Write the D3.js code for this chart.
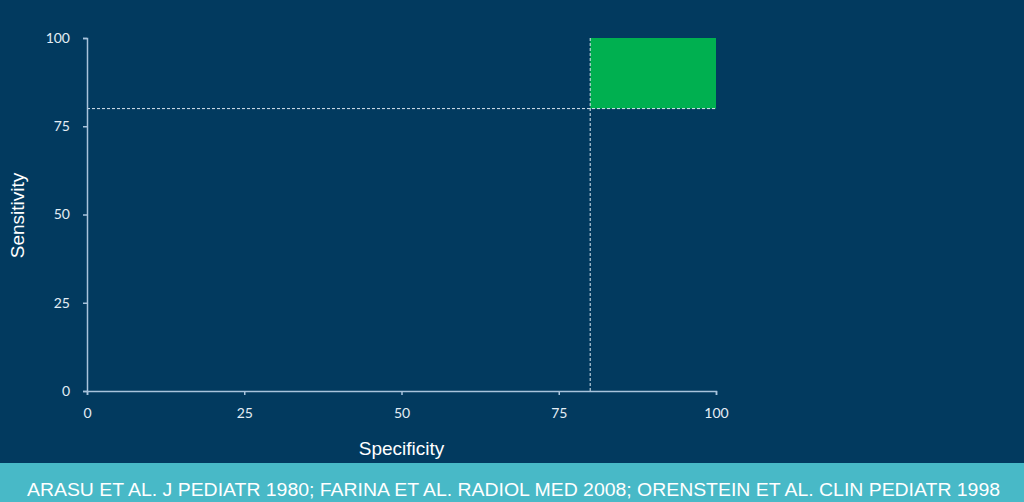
<!DOCTYPE html>
<html>
<head>
<meta charset="utf-8">
<script src="https://cdn.jsdelivr.net/npm/d3@7"></script>
<style>
  body { margin: 0; background: #023a5f; }
  svg { display: block; }
</style>
</head>
<body>
<div id="chart"></div>
<script>
// axis ticks
const xTicks = [0, 25, 50, 75, 100];
const yTicks = [0, 25, 50, 75, 100];
// cut-off thresholds (specificity, sensitivity)
const cutSpec = [80];
const cutSens = [80];
// target region: specificity 80-100, sensitivity 80-100
const targetBox = [{x0: 80, x1: 100, y0: 80, y1: 100}];
const footerText = ['ARASU ET AL. J PEDIATR 1980;  FARINA ET AL. RADIOL MED 2008; ORENSTEIN ET AL. CLIN PEDIATR 1998'];

const W = 1024, H = 502;
const margin = {top: 38, left: 87};
const width = 716 - margin.left, height = 391 - margin.top;

const svg = d3.select('#chart').append('svg')
  .attr('width', W).attr('height', H);

svg.append('rect').attr('width', W).attr('height', H).attr('fill', '#023a5f');

const g = svg.append('g')
  .attr('transform', 'translate(' + margin.left + ',' + margin.top + ')');

const x = d3.scaleLinear().domain([0, 100]).range([0, width]);
const y = d3.scaleLinear().domain([0, 100]).range([height, 0]);

// green box
g.selectAll('.box').data(targetBox).enter().append('rect')
  .attr('x', d => x(d.x0))
  .attr('y', d => y(d.y1))
  .attr('width', d => x(d.x1) - x(d.x0))
  .attr('height', d => y(d.y0) - y(d.y1))
  .attr('fill', '#00b050');

// dashed cut-off lines
g.selectAll('.hcut').data(cutSens).enter().append('line')
  .attr('x1', x(0)).attr('x2', x(100))
  .attr('y1', d => y(d)).attr('y2', d => y(d))
  .attr('stroke', '#dde8f2').attr('stroke-width', 1)
  .attr('stroke-dasharray', '3,2');
g.selectAll('.vcut').data(cutSpec).enter().append('line')
  .attr('x1', d => x(d)).attr('x2', d => x(d))
  .attr('y1', y(100)).attr('y2', y(0))
  .attr('stroke', '#dde8f2').attr('stroke-width', 1)
  .attr('stroke-dasharray', '3,2');

// axes
const axisColor = '#a9c3dc';
const xAxis = g.append('g')
  .attr('transform', 'translate(0,' + height + ')')
  .call(d3.axisBottom(x).tickValues(xTicks).tickSize(4).tickPadding(13).tickSizeOuter(4));
const yAxis = g.append('g')
  .call(d3.axisLeft(y).tickValues(yTicks).tickSize(4).tickPadding(13).tickSizeOuter(4));

[xAxis, yAxis].forEach(a => {
  a.selectAll('path, line').attr('stroke', axisColor).attr('stroke-width', 1.5);
  a.selectAll('text')
    .attr('fill', '#e4edf5')
    .attr('font-family', 'Lato, "Open Sans", sans-serif')
    .attr('font-size', '14px');
});

// axis titles
svg.append('text')
  .attr('transform', 'translate(24,' + (margin.top + height / 2 + 1) + ') rotate(-90)')
  .attr('text-anchor', 'middle')
  .attr('fill', '#ffffff')
  .attr('font-family', '"Liberation Sans", Arial, sans-serif')
  .attr('font-size', '19px')
  .text('Sensitivity');

svg.append('text')
  .attr('x', margin.left + width / 2)
  .attr('y', 455)
  .attr('text-anchor', 'middle')
  .attr('fill', '#ffffff')
  .attr('font-family', '"Liberation Sans", Arial, sans-serif')
  .attr('font-size', '19px')
  .text('Specificity');

// footer band
svg.append('rect')
  .attr('x', 0).attr('y', 463).attr('width', W).attr('height', H - 463)
  .attr('fill', '#48b9c7');

svg.selectAll('.footer').data(footerText).enter().append('text')
  .attr('x', 27).attr('y', 496)
  .attr('fill', '#ffffff')
  .attr('font-family', '"Liberation Sans Narrow", "Arial Narrow", "Liberation Sans", sans-serif')
  .attr('font-size', '18px')
  .attr('textLength', 973)
  .attr('lengthAdjust', 'spacingAndGlyphs')
  .text(d => d);
</script>
</body>
</html>
